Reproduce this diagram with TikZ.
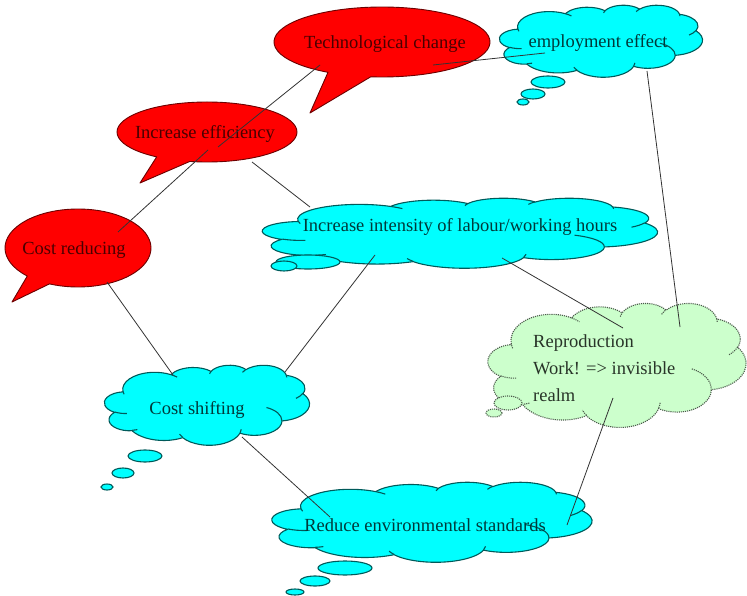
\documentclass[tikz,border=0pt]{standalone}
\usepackage{fontspec}
\setmainfont{Liberation Serif}
\usetikzlibrary{calc}

\definecolor{balloonred}{HTML}{FF0000}
\definecolor{balloonedge}{HTML}{6B0000}
\definecolor{balloontext}{HTML}{4A0000}
\definecolor{cloudcyan}{HTML}{00FFFF}
\definecolor{cloudedge}{HTML}{005A5A}
\definecolor{cloudtext}{HTML}{003A3A}
\definecolor{cloudgreen}{HTML}{CCFFCC}
\definecolor{greenedge}{HTML}{4A5A4A}
\definecolor{greentext}{HTML}{283428}
\definecolor{linkgray}{HTML}{333333}

% elliptic arc given by its visual start angle and sweep (degrees)
\newcommand{\ooarc}[4]{%
  \pgfextra{%
    \pgfmathsetmacro\oots{atan2((#1)*sin(#3),(#2)*cos(#3))}%
    \pgfmathsetmacro\oote{atan2((#1)*sin((#3)+(#4)),(#2)*cos((#3)+(#4)))}%
    \pgfmathsetmacro\ood{mod(\oote-\oots+720,360)}%
  }
  arc[start angle=\oots, delta angle=\ood, x radius=#1, y radius=#2]}

% cloud outline in a 432 x 432 box, stretched to width #4 and height #5
\newcommand{\puffcloud}[6]{%
  \coordinate (#1) at (#2,#3);
  \pgfmathsetmacro\ooxu{#4/432}\pgfmathsetmacro\ooyu{-#5/432}
  \begin{scope}[shift={(#2-#4/2,#3-#5/2)}, x=\ooxu pt, y=\ooyu pt]
    \path[#6] (39,143.7)
      \ooarc{67.53}{91.90}{-190.4875}{123.7805}
      \ooarc{53.33}{72.67}{-144.1024}{89.9452}
      \ooarc{43.65}{59.45}{-145.8079}{99.7230}
      \ooarc{48.57}{65.95}{-130.9861}{117.2417}
      \ooarc{53.33}{72.73}{-78.7089}{109.0269}
      \ooarc{67.75}{92.20}{-46.2673}{130.2690}
      \ooarc{57.85}{78.67}{0.6250}{114.0333}
      \ooarc{67.52}{92.15}{22.4516}{115.1726}
      \ooarc{77.20}{105.43}{66.2426}{75.7110}
      \ooarc{43.60}{59.18}{-274.9421}{146.7356}
      \ooarc{43.45}{59.45}{-246.8285}{152.5189}
      -- cycle;
    \path[#6, fill=none]
      (46.93,261.77) \ooarc{43.45}{59.45}{86.7420}{26.4295}
      (69.28,348.99) \ooarc{43.60}{59.18}{73.6105}{11.4475}
      (164.78,390.90) \ooarc{67.52}{92.15}{137.6242}{14.0811}
      (288.27,347.51) \ooarc{67.52}{92.15}{6.4533}{15.9984}
      (341.29,229.54) \ooarc{57.85}{78.67}{-70.2924}{70.9174}
      (417.98,153.54) \ooarc{53.33}{72.73}{30.3180}{27.7515}
      (383.24,54.26) \ooarc{48.57}{65.95}{-13.7443}{14.8589}
      (290.78,39.52) \ooarc{48.57}{65.95}{-149.1815}{18.1954}
      (221.41,47.20) \ooarc{43.65}{59.45}{-163.4943}{17.6864}
      (140.00,51.92) \ooarc{67.53}{91.90}{-66.7070}{12.3194}
      (41.27,157.89) \ooarc{67.53}{91.90}{157.6544}{11.8582};
  \end{scope}}

% speech balloon: name, centre x, centre y, radii, arc start, arc sweep, tip
\newcommand{\balloon}[8]{%
  \coordinate (#1) at (#2,#3);
  \path[speech] ($(#1)+(#6:#4 and #5)$)
    arc[start angle=#6, delta angle=#7, x radius=#4, y radius=#5] -- #8 -- cycle;}

\begin{document}
\begin{tikzpicture}[x=1pt,y=-1pt,
  font=\fontsize{18.5}{22}\selectfont,
  speech/.style={fill=balloonred, draw=balloonedge, line width=0.9pt, line join=round},
  thought/.style={fill=cloudcyan, draw=cloudedge, line width=1.1pt, line join=round},
  greenthought/.style={fill=cloudgreen, draw=greenedge, line width=1.1pt, densely dotted},
  bubble/.style={fill=cloudcyan, draw=cloudedge, line width=1.1pt},
  greenbubble/.style={fill=cloudgreen, draw=greenedge, line width=1.1pt, densely dotted},
  redtxt/.style={text=balloontext, inner sep=0pt},
  cyantxt/.style={text=cloudtext, inner sep=0pt},
  greentxt/.style={text=greentext, inner sep=0pt},
  link/.style={draw=linkgray, line width=0.8pt}]

\useasboundingbox (0,0) rectangle (747,596);

% speech balloons
\balloon{tc}{382}{42}{108}{35}{120}{336}{(310,113)}
\balloon{ie}{207}{132}{90}{30}{124}{337}{(140,183)}
\balloon{cr}{78}{248}{73}{39}{134}{339}{(12,302)}

% thought clouds
\puffcloud{ee}{601}{41}{203}{72}{thought}
\puffcloud{ii}{460}{233}{395}{70}{thought}
\puffcloud{rp}{617}{365}{258}{124}{greenthought}
\puffcloud{cs}{207}{405}{205}{80}{thought}
\puffcloud{re}{432}{522}{320}{80}{thought}

% trailing bubbles
\draw[bubble] (548,82) ellipse (17pt and 6pt);
\draw[bubble] (533,94) ellipse (12pt and 5pt);
\draw[bubble] (523,102) ellipse (6pt and 3pt);

\draw[bubble] (308,262) ellipse (32pt and 7pt);
\draw[bubble] (284,266) ellipse (13pt and 5pt);

\draw[greenbubble] (508,403) ellipse (14pt and 7pt);
\draw[greenbubble] (494,413) ellipse (8pt and 4pt);

\draw[bubble] (145,456) ellipse (17pt and 6pt);
\draw[bubble] (123,473) ellipse (11pt and 5pt);
\draw[bubble] (107,487) ellipse (6pt and 3pt);

\draw[bubble] (345,568) ellipse (27pt and 7pt);
\draw[bubble] (315,581) ellipse (15pt and 5pt);
\draw[bubble] (295,592) ellipse (9pt and 3pt);

% texts
\node[redtxt] (tc-t) at (385,44) {Technological change};
\node[redtxt] (ie-t) at (205,134) {Increase efficiency};
\node[redtxt] (cr-t) at (74,250) {Cost reducing};
\node[cyantxt] (ee-t) at (598,43) {employment effect};
\node[cyantxt] (ii-t) at (460,227) {Increase intensity of labour/working hours};
\node[cyantxt] (cs-t) at (197,410) {Cost shifting};
\node[cyantxt] (re-t) at (425,525) {Reduce environmental standards};
\node[greentxt, align=left, anchor=west, font=\fontsize{18.5}{27}\selectfont]
  (rp-t) at (533,368) {Reproduction\\Work! => invisible\\realm};

% connectors
\draw[link] ($(tc)+(51,23)$) -- ($(ee)+(-56,12)$);
\draw[link] ($(tc)+(-62,23)$) -- ($(ie)+(11,15)$);
\draw[link] ($(ie)+(1,18)$) -- ($(cr)+(40,-16)$);
\draw[link] ($(ie)+(45,30)$) -- ($(ii)+(-150,-26)$);
\draw[link] ($(cr)+(29,34)$) -- ($(cs)+(-34,-30)$);
\draw[link] ($(ii)+(-85,22)$) -- ($(cs)+(78,-33)$);
\draw[link] ($(ii)+(42,25)$) -- ($(rp)+(6,-37)$);
\draw[link] ($(ee)+(46,30)$) -- ($(rp)+(63,-38)$);
\draw[link] ($(cs)+(35,32)$) -- ($(re)+(-102,-5)$);
\draw[link] ($(rp)+(-4,33)$) -- ($(re)+(135,3)$);
\end{tikzpicture}
\end{document}
